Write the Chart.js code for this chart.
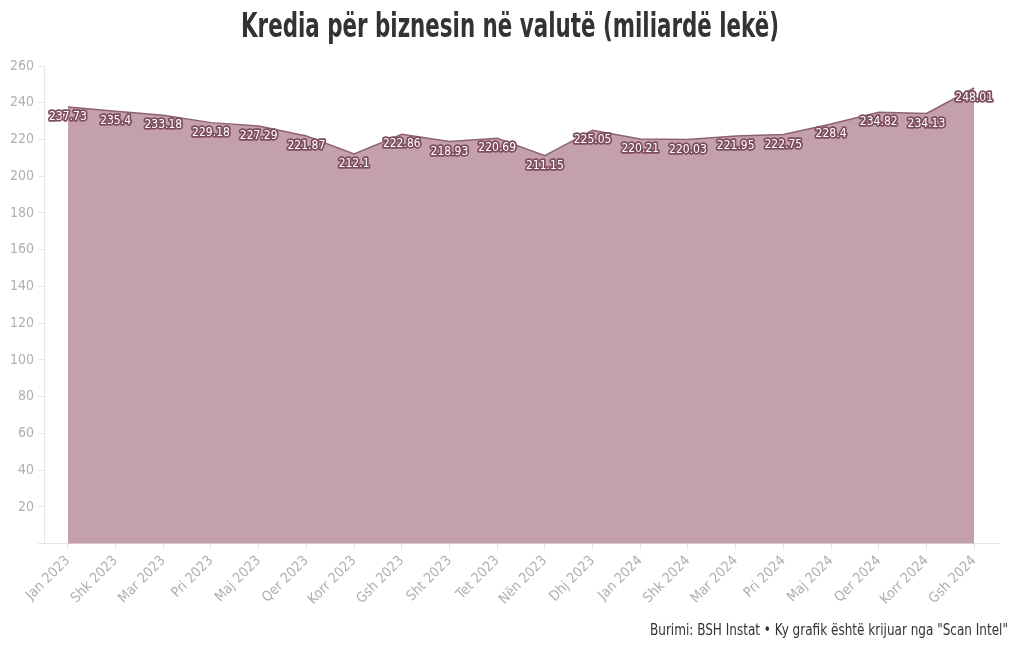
<!DOCTYPE html>
<html>
<head>
<meta charset="utf-8">
<script src="https://cdn.jsdelivr.net/npm/chart.js@4.4.1/dist/chart.umd.min.js"></script>
<style>
  html, body { margin: 0; padding: 0; background: #fff; }
  #wrap { width: 1020px; height: 650px; }
</style>
</head>
<body>
<div id="wrap"><canvas id="c" width="1020" height="650"></canvas></div>
<script>
const months = ['Jan 2023', 'Shk 2023', 'Mar 2023', 'Pri 2023', 'Maj 2023', 'Qer 2023', 'Korr 2023', 'Gsh 2023',
  'Sht 2023', 'Tet 2023', 'Nën 2023', 'Dhj 2023', 'Jan 2024', 'Shk 2024', 'Mar 2024', 'Pri 2024',
  'Maj 2024', 'Qer 2024', 'Korr 2024', 'Gsh 2024'];
const kredia = [237.73, 235.4, 233.18, 229.18, 227.29, 221.87, 212.1, 222.86, 218.93, 220.69,
  211.15, 225.05, 220.21, 220.03, 221.95, 222.75, 228.4, 234.82, 234.13, 248.01];
const yTicks = [0, 20, 40, 60, 80, 100, 120, 140, 160, 180, 200, 220, 240, 260];
const titulli = 'Kredia për biznesin në valutë (miliardë lekë)';
const burimi = 'Burimi: BSH Instat • Ky grafik është krijuar nga "Scan Intel"';

const narrow = '"Liberation Sans Narrow", "DejaVu Sans Condensed", sans-serif';

// shkruan tekst të ngushtuar horizontalisht deri në gjerësinë e dhënë
function squeezeText(ctx, txt, x, y, width, align){
  const w = ctx.measureText(txt).width;
  const k = Math.min(1, width / w);
  ctx.save();
  ctx.translate(x, y);
  ctx.scale(k, 1);
  ctx.textAlign = align;
  ctx.fillText(txt, 0, 0);
  ctx.restore();
}

// etiketat e vlerave: tekst i bardhë me kontur të errët
const valueLabels = {
  id: 'valueLabels',
  afterDatasetsDraw(chart){
    const { ctx } = chart;
    const meta = chart.getDatasetMeta(0);
    ctx.save();
    ctx.font = '12px ' + narrow;
    ctx.textAlign = 'center';
    ctx.textBaseline = 'middle';
    ctx.lineJoin = 'round';
    meta.data.forEach((pt, i) => {
      const txt = String(kredia[i]);
      const y = pt.y + 10;
      ctx.lineWidth = 3.5;
      ctx.strokeStyle = '#7e4d5f';
      ctx.strokeText(txt, pt.x, y);
      ctx.fillStyle = '#ffffff';
      ctx.fillText(txt, pt.x, y);
    });
    ctx.restore();
  }
};

// titulli lart dhe burimi poshtë djathtas
const headFoot = {
  id: 'headFoot',
  afterDraw(chart){
    const { ctx } = chart;
    ctx.save();
    ctx.fillStyle = '#333333';
    ctx.textBaseline = 'alphabetic';
    ctx.font = 'bold 33px "DejaVu Sans Condensed", sans-serif';
    squeezeText(ctx, titulli, 510, 37, 538, 'center');
    ctx.font = '15px ' + narrow;
    squeezeText(ctx, burimi, 1008, 635, 358, 'right');
    ctx.restore();
  }
};

new Chart(document.getElementById('c'), {
  type: 'line',
  data: {
    labels: months,
    datasets: [{
      label: 'Kredia',
      data: kredia,
      fill: 'origin',
      tension: 0,
      pointRadius: 0,
      borderWidth: 1.5,
      borderColor: '#8f6273',
      backgroundColor: '#c4a0ac'
    }]
  },
  options: {
    responsive: false,
    animation: false,
    layout: { padding: { left: 6, right: 22, top: 66, bottom: 39 } },
    plugins: {
      legend: { display: false },
      tooltip: { enabled: false },
      title: { display: false }
    },
    scales: {
      x: {
        offset: true,
        grid: { display: true, drawOnChartArea: false, color: '#e6e6e6', tickLength: 6 },
        border: { color: '#e6e6e6' },
        ticks: {
          color: '#b0b0b0',
          minRotation: 45,
          maxRotation: 45,
          autoSkip: false,
          font: { family: narrow, size: 14 }
        }
      },
      y: {
        min: 0,
        max: 260,
        afterBuildTicks: (axis) => { axis.ticks = yTicks.map(v => ({ value: v })); },
        grid: { display: true, drawOnChartArea: false, color: '#e6e6e6', tickLength: 6 },
        border: { color: '#e6e6e6' },
        ticks: {
          color: '#b0b0b0',
          padding: 4,
          font: { family: narrow, size: 14 },
          callback: (v) => v === 0 ? '' : v
        }
      }
    }
  },
  plugins: [valueLabels, headFoot]
});
</script>
</body>
</html>
